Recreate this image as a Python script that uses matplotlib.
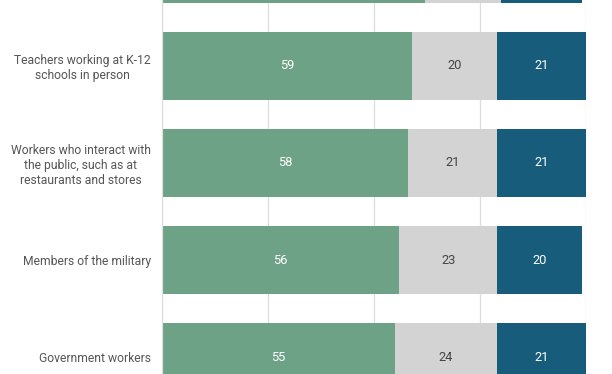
import numpy as np
import matplotlib.pyplot as plt

plt.rcParams['font.family'] = ['Roboto', 'DejaVu Sans']

# data (top row is cut off in the reference)
groups = ['Health care workers',
          'Teachers working at K-12\nschools in person',
          'Workers who interact with\nthe public, such as at\nrestaurants and stores',
          'Members of the military',
          'Government workers']
first = [62, 59, 58, 56, 55]
middle = [18, 20, 21, 23, 24]
last = [19, 21, 21, 20, 21]

green = '#6ea287'
grey = '#d3d3d3'
blue = '#175c7b'

fig = plt.figure(figsize=(6.12, 3.74), dpi=100)
ax = fig.add_axes([162 / 612, 0, 424 / 612, 1])

y = np.arange(len(groups))
h = 0.70
ax.barh(y, first, height=h, color=green, zorder=2)
ax.barh(y, middle, left=first, height=h, color=grey, zorder=2)
left2 = np.array(first) + np.array(middle)
ax.barh(y, last, left=left2, height=h, color=blue, zorder=2)

for i in range(1, len(groups)):
    ax.text(first[i] / 2, y[i], str(first[i]), ha='center', va='center',
            color='white', fontsize=9.3, zorder=3)
    ax.text(first[i] + middle[i] / 2, y[i], str(middle[i]), ha='center',
            va='center', color='#444444', fontsize=9.3, zorder=3)
    ax.text(left2[i] + last[i] / 2, y[i], str(last[i]), ha='center',
            va='center', color='white', fontsize=9.3, zorder=3)

ax.set_xlim(0, 100)
ax.set_xticks([0, 25, 50, 75, 100])
ax.xaxis.grid(True, color='#dddddd', linewidth=0.9, zorder=0)
ax.tick_params(axis='x', bottom=False, labelbottom=False)
ax.set_yticks(y)
ax.set_yticklabels(groups, fontsize=8.7, color='#555555')
ax.tick_params(axis='y', length=0, pad=8)
for lbl in ax.get_yticklabels():
    lbl.set_multialignment('center')
    lbl.set_linespacing(1.2)
ax.set_ylim(4.175, 0.32)
for s in ['top', 'right', 'bottom']:
    ax.spines[s].set_visible(False)
ax.spines['left'].set_color('#dddddd')
ax.spines['left'].set_linewidth(0.9)

fig.savefig('out.png', dpi=100)
